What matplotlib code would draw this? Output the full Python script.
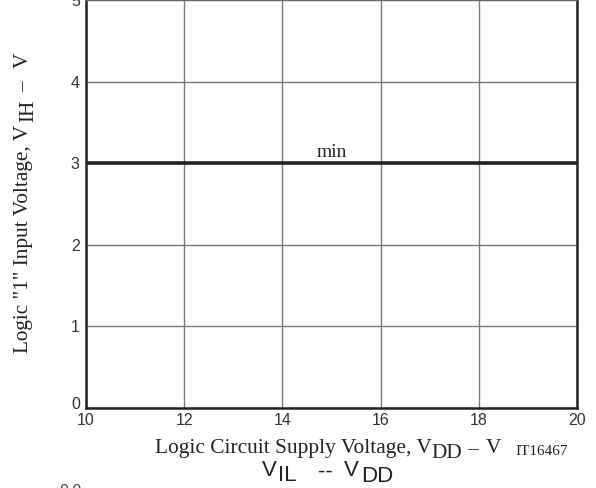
import matplotlib
matplotlib.use("Agg")
import matplotlib.pyplot as plt
from matplotlib.transforms import ScaledTranslation

# Data
x_ticks = [10, 12, 14, 16, 18, 20]
y_ticks = [0, 1, 2, 3, 4, 5]
vdd = [10, 20]
vih_min = [3.0, 3.0]
curve_label = "min"

W, H = 596, 488
fig = plt.figure(figsize=(W / 100, H / 100), dpi=100)
renderer = fig.canvas.get_renderer()
ax = fig.add_axes([86 / W, 1 - 408 / H, (577 - 86) / W, 408 / H - 0.001])

ax.set_xlim(10, 20)
ax.set_ylim(0, 5)
ax.set_xticks(x_ticks)
ax.set_yticks(y_ticks)
ax.grid(True, color="#7a7a7a", linewidth=1.0)
ax.set_axisbelow(True)
ax.tick_params(length=0, labelsize=11.5, colors="#333333")
ax.tick_params(axis="x", pad=3.5)
ax.tick_params(axis="y", pad=4.5)
for lab in ax.get_xticklabels() + ax.get_yticklabels():
    lab.set_family("Liberation Sans")
ylabs = ax.get_yticklabels()
ylabs[0].set_transform(ylabs[0].get_transform() + ScaledTranslation(0, 5 / 100, fig.dpi_scale_trans))

for side in ["left", "bottom", "right"]:
    ax.spines[side].set_color("#222222")
    ax.spines[side].set_linewidth(1.8)
ax.spines["top"].set_color("#666666")
ax.spines["top"].set_linewidth(1.5)

ax.plot(vdd, vih_min, color="#222222", linewidth=2.6, solid_capstyle="butt")
ax.text(15.0, 3.075, curve_label, ha="center", va="baseline", family="Liberation Serif",
        fontsize=14, color="#222222")

serif = "Liberation Serif"
sans = "Liberation Sans"
INK = "#222222"


def fit_size(s, family, target_px):
    t = fig.text(0, 0, s, fontsize=10, family=family)
    w = t.get_window_extent(renderer).width
    t.remove()
    return 10 * target_px / w


def put(s, px, py, size, family, rot=0, **kw):
    # px, py: pixel position of the left end of the baseline (from top-left)
    fig.text(px / W, 1 - py / H, s, fontsize=size, family=family, color=INK,
             ha="left", va="baseline", rotation=rot, rotation_mode="anchor", **kw)


# x-axis title: Logic Circuit Supply Voltage, V_DD - V
main_x = "Logic Circuit Supply Voltage, V"
sx = fit_size(main_x, serif, 431 - 155)
put(main_x, 155, 453, sx, serif)
put("DD", 431, 458, sx, serif)
put("\u2013", 467, 454, sx, serif)
put("V", 486, 453, sx, serif)
put("IT16467", 515, 455, 11, serif)

# y-axis title (rotated): Logic "1" Input Voltage, V_IH - V
main_y = 'Logic "1" Input Voltage, V'
sy = fit_size(main_y, serif, 353 - 125)
put(main_y, 28, 353, sy, serif, rot=90)
put("IH", 33, 122, sy, serif, rot=90)
put("\u2013", 28, 92, sy, serif, rot=90)
put("V", 28, 68, sy, serif, rot=90)

# chart caption: V_IL -- V_DD
tsize = 16
put("V", 262, 476, tsize, sans)
put("IL", 278, 481, tsize, sans)
put("--", 318, 478, tsize, sans)
put("V", 344, 476, tsize, sans)
put("DD", 361, 482, tsize, sans)

# clipped label of the next chart at the bottom edge
fig.text(70 / W, 1 - 492 / H, "0.0", ha="center", va="center", family=sans,
         fontsize=11.5, color="#444444")

fig.savefig("out.png", dpi=100)
